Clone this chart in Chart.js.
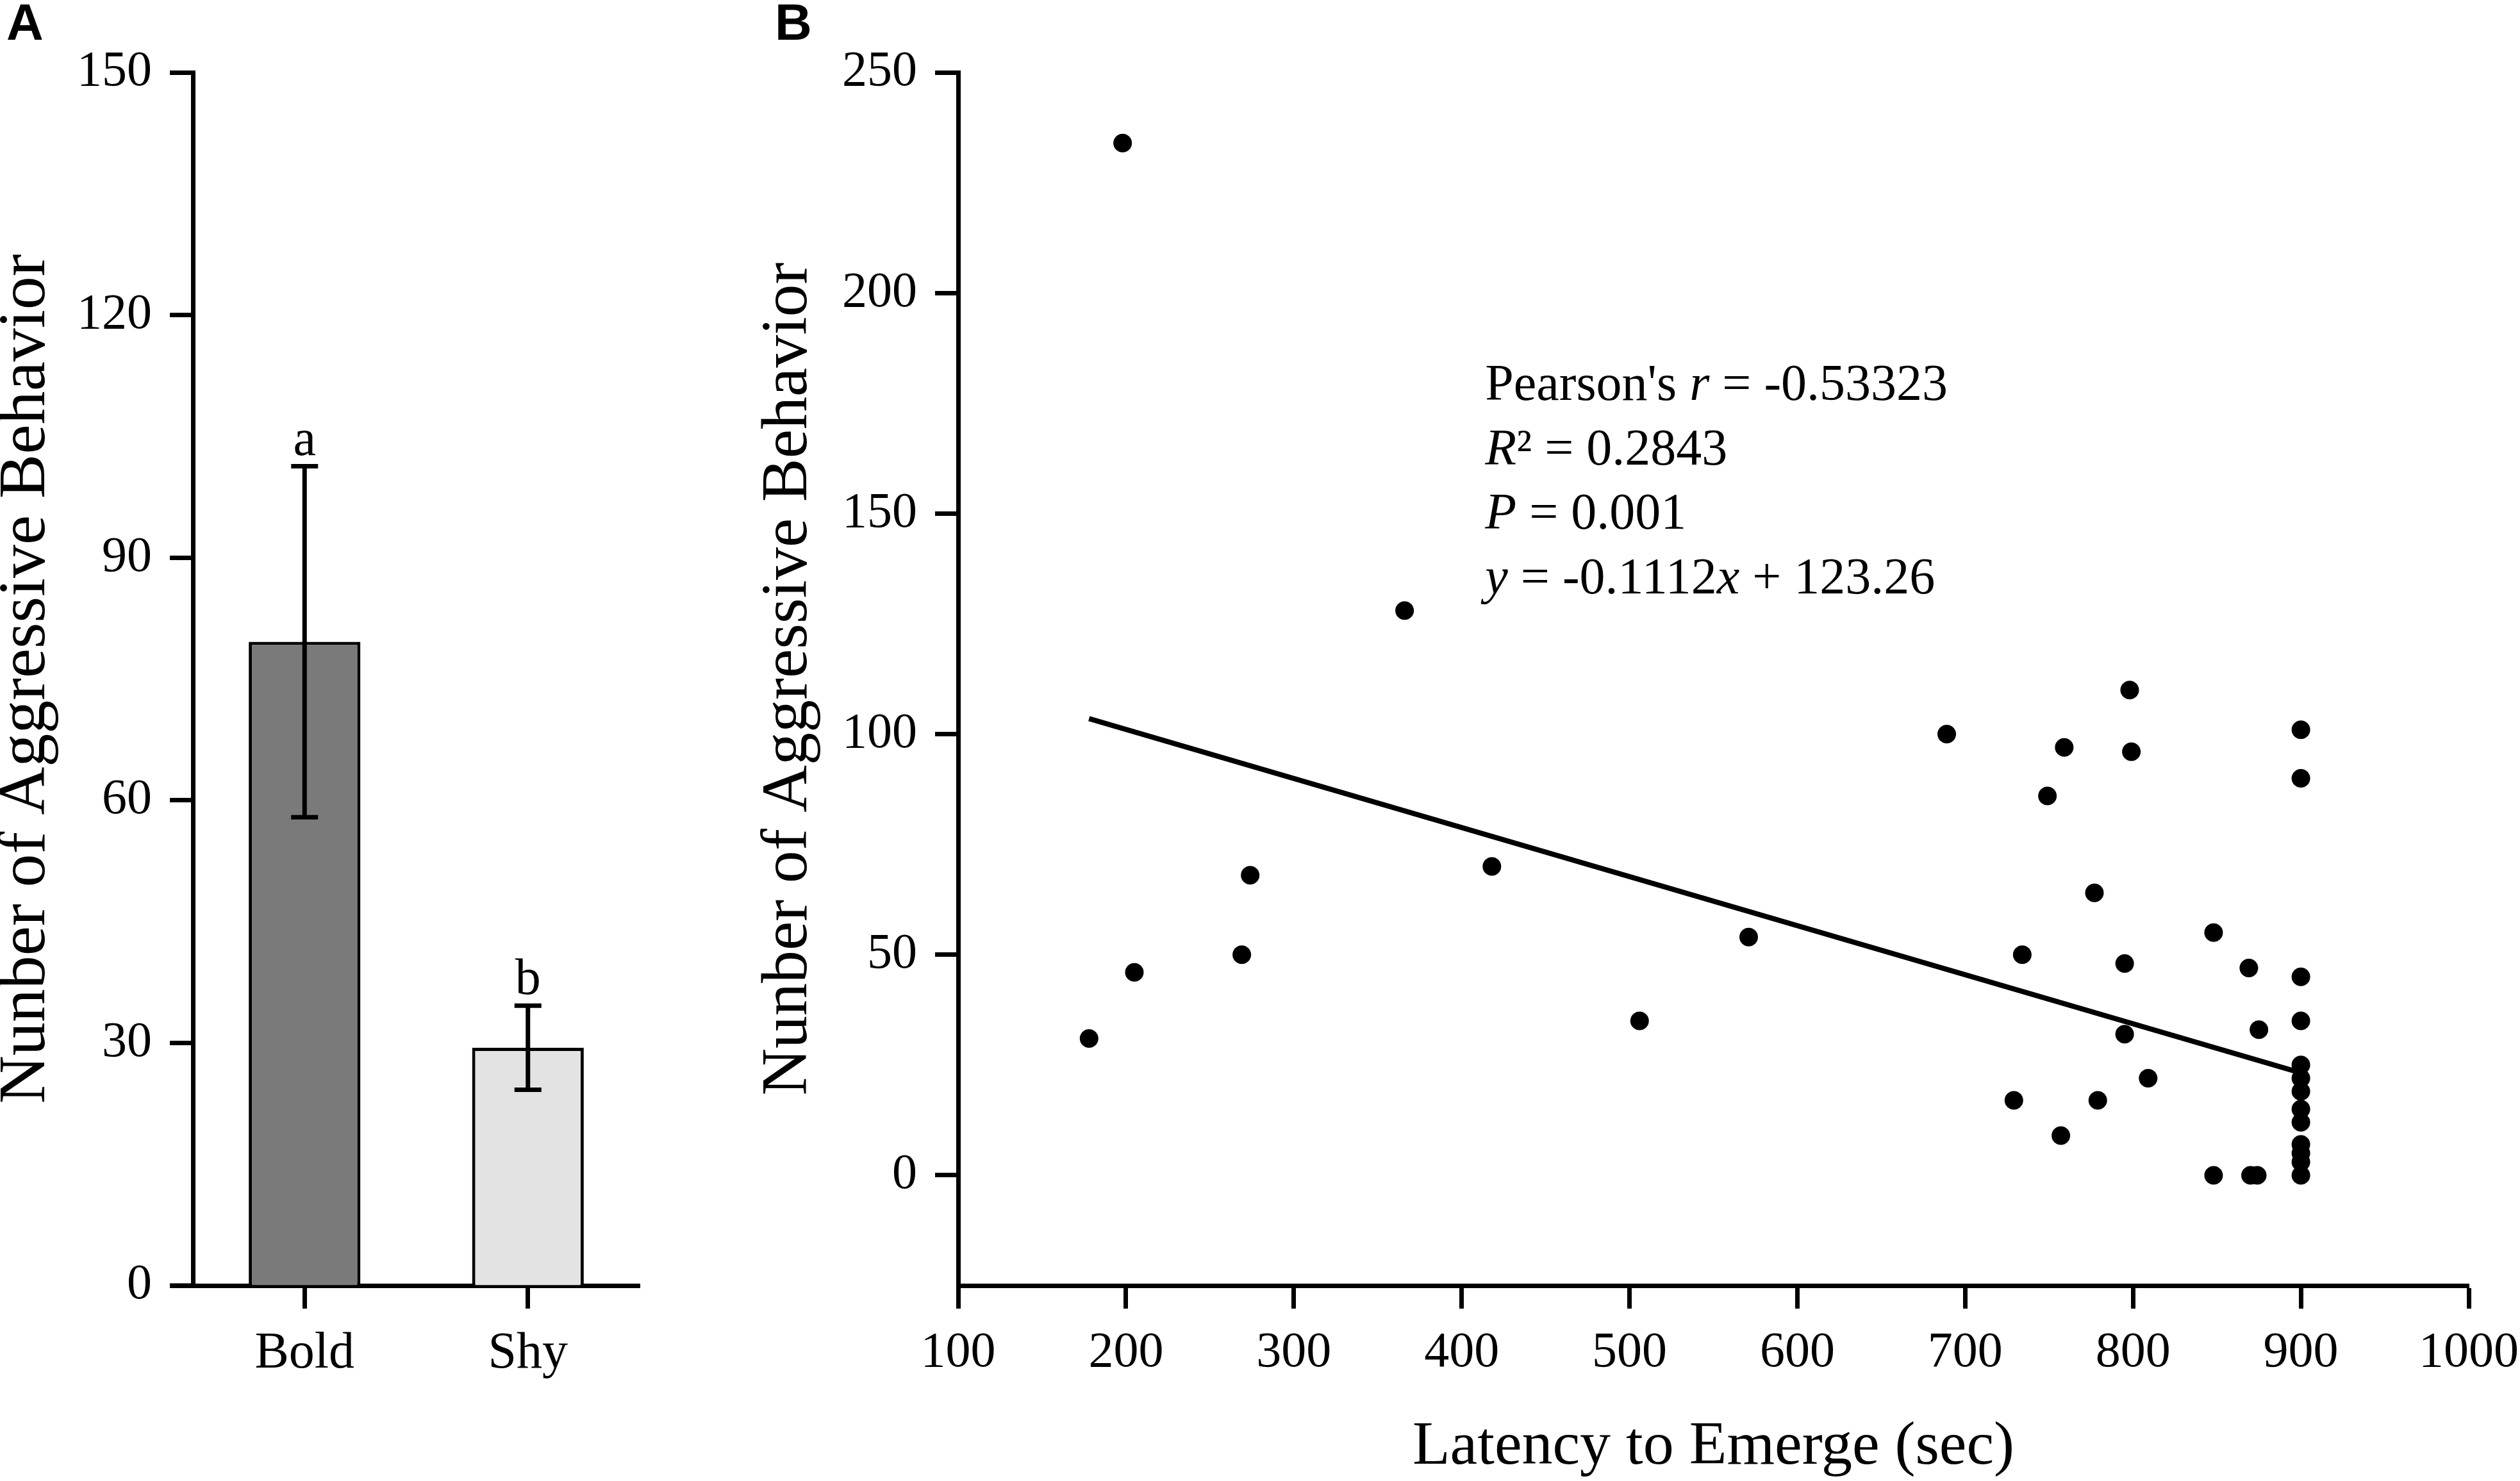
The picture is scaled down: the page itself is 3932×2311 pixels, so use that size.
<!DOCTYPE html>
<html>
<head>
<meta charset="utf-8">
<script src="https://cdn.jsdelivr.net/npm/chart.js@4.4.1/dist/chart.umd.min.js"></script>
<style>
  html, body { margin: 0; padding: 0; background: #fff; overflow: hidden; }
  #wrap { position: relative; width: 3932px; height: 2311px; background: #fff; }
  canvas { position: absolute; top: 0; }
  #cA { left: 0; width: 1150px; height: 2311px; }
  #cB { left: 1150px; width: 2782px; height: 2311px; }
</style>
</head>
<body>
<div id="wrap">
  <canvas id="cA" width="1150" height="2311"></canvas>
  <canvas id="cB" width="2782" height="2311"></canvas>
</div>
<script>
// ---------- Panel A data ----------
const groups = ['Bold', 'Shy'];
const groupMeans = [79.6, 29.4];
const groupErrors = [21.7, 5.2];
const groupLetters = ['a', 'b'];
const groupColors = ['#7a7a7a', '#e3e3e3'];
const yTicksA = [0, 30, 60, 90, 120, 150];
const yTitle = 'Nunber of Aggressive Behavior';

// ---------- Panel B data ----------
const latency = [178, 198, 205, 269, 274, 366, 418, 506, 571, 689, 729, 734, 749, 757, 759, 777, 779, 795, 795, 798, 799, 809, 848, 848, 869, 870, 874, 875,
                 900, 900, 900, 900, 900, 900, 900, 900, 900, 900, 900, 900, 900];
const aggression = [31, 234, 46, 50, 68, 128, 70, 35, 54, 100, 17, 50, 86, 9, 97, 64, 17, 48, 32, 110, 96, 22, 55, 0, 47, 0, 0, 33,
                    101, 90, 45, 35, 25, 22, 19, 15, 12, 7, 5, 3, 0];
const fitX = [178, 900];
const fitY = [103.5, 23.2];
const xTicksB = [100, 200, 300, 400, 500, 600, 700, 800, 900, 1000];
const yTicksB = [0, 50, 100, 150, 200, 250];
const xTitleB = 'Latency to Emerge (sec)';
const annotAnchor = [414, 175.7];
const annotLines = [
  [["Pearson's ", false], ['r', true], [' = -0.53323', false]],
  [['R', true], ['\u00B2', false], [' = 0.2843', false]],
  [['P', true], [' = 0.001', false]],
  [['y', true], [' = -0.1112', false], ['x', true], [' + 123.26', false]]
];

Chart.defaults.font.family = '"Liberation Serif", "Times New Roman", serif';
Chart.defaults.color = '#000';

const SERIF = '"Liberation Serif", "Times New Roman", serif';
const plainLabel = v => String(v);

function axisGrid(tl) {
  return { display: true, drawOnChartArea: false, offset: false, tickLength: tl, tickWidth: 7, tickColor: '#000' };
}
const axisBorder = { display: true, width: 7, color: '#000' };

// ---------- Panel A ----------
const errorBarPlugin = {
  id: 'errorBars',
  afterDatasetsDraw(chart) {
    const ctx = chart.ctx, xs = chart.scales.x, ys = chart.scales.y;
    ctx.save();
    ctx.strokeStyle = '#000';
    ctx.lineWidth = 7;
    ctx.lineCap = 'butt';
    for (let i = 0; i < groups.length; i++) {
      const x = xs.getPixelForValue(i);
      const yt = ys.getPixelForValue(groupMeans[i] + groupErrors[i]);
      const yb = ys.getPixelForValue(groupMeans[i] - groupErrors[i]);
      ctx.beginPath();
      ctx.moveTo(x, yt); ctx.lineTo(x, yb);
      ctx.moveTo(x - 21, yt); ctx.lineTo(x + 21, yt);
      ctx.moveTo(x - 21, yb); ctx.lineTo(x + 21, yb);
      ctx.stroke();
      ctx.fillStyle = '#000';
      ctx.font = '80px ' + SERIF;
      ctx.textAlign = 'center';
      ctx.textBaseline = 'alphabetic';
      ctx.fillText(groupLetters[i], x, yt - 18);
    }
    const ca = chart.chartArea;
    ctx.beginPath();
    ctx.moveTo(ca.left - 36, ca.bottom);
    ctx.lineTo(ca.left, ca.bottom);
    ctx.stroke();
    ctx.font = 'bold 80px "Liberation Sans", Arial, sans-serif';
    ctx.textAlign = 'left';
    ctx.fillText('A', 10, 62);
    ctx.restore();
  }
};

new Chart(document.getElementById('cA'), {
  type: 'bar',
  data: {
    labels: groups,
    datasets: [{
      data: groupMeans,
      backgroundColor: groupColors,
      borderColor: '#000',
      borderWidth: 5,
      borderSkipped: 'start',
      barPercentage: 0.5,
      categoryPercentage: 1.0
    }]
  },
  options: {
    responsive: false,
    animation: false,
    devicePixelRatio: 1,
    layout: { padding: { left: 0, right: 152, top: 113, bottom: 0 } },
    plugins: { legend: { display: false }, tooltip: { enabled: false } },
    scales: {
      x: {
        type: 'category',
        offset: true,
        grid: axisGrid(36),
        border: axisBorder,
        ticks: { font: { size: 80 }, color: '#000', padding: 23 },
        afterFit(s) { s.height = 305; s.paddingLeft = 0; s.paddingRight = 0; }
      },
      y: {
        min: 0, max: 150,
        afterBuildTicks(s) { s.ticks = yTicksA.map(v => ({ value: v })); },
        grid: axisGrid(36),
        border: axisBorder,
        ticks: { font: { size: 78 }, color: '#000', padding: 28, callback: plainLabel },
        title: { display: true, text: yTitle, color: '#000', font: { size: 104, lineHeight: 0.8 }, padding: { top: 0, bottom: 0 } },
        afterFit(s) { s.width = 301; s.paddingTop = 0; s.paddingBottom = 0; }
      }
    }
  },
  plugins: [errorBarPlugin]
});

// ---------- Panel B ----------
const annotPlugin = {
  id: 'annot',
  afterDraw(chart) {
    const ctx = chart.ctx, xs = chart.scales.x, ys = chart.scales.y;
    const x0 = xs.getPixelForValue(annotAnchor[0]);
    const y0 = ys.getPixelForValue(annotAnchor[1]);
    ctx.save();
    ctx.fillStyle = '#000';
    ctx.textAlign = 'left';
    ctx.textBaseline = 'alphabetic';
    annotLines.forEach((line, li) => {
      let x = x0;
      const y = y0 + li * 100.5;
      line.forEach(([txt, ital]) => {
        ctx.font = (ital ? 'italic ' : '') + '80px ' + SERIF;
        ctx.fillText(txt, x, y);
        x += ctx.measureText(txt).width;
      });
    });
    ctx.font = 'bold 80px "Liberation Sans", Arial, sans-serif';
    ctx.fillText('B', 59, 62);
    ctx.restore();
  }
};

new Chart(document.getElementById('cB'), {
  type: 'scatter',
  data: {
    datasets: [
      {
        type: 'line',
        data: fitX.map((x, i) => ({ x: x, y: fitY[i] })),
        borderColor: '#000',
        borderWidth: 8,
        pointRadius: 0,
        fill: false,
        tension: 0
      },
      {
        data: latency.map((x, i) => ({ x: x, y: aggression[i] })),
        backgroundColor: '#000',
        borderColor: '#000',
        borderWidth: 0,
        pointRadius: 14.5
      }
    ]
  },
  options: {
    responsive: false,
    animation: false,
    devicePixelRatio: 1,
    layout: { padding: { left: 0, right: 80, top: 113, bottom: 0 } },
    plugins: { legend: { display: false }, tooltip: { enabled: false } },
    scales: {
      x: {
        type: 'linear',
        min: 100, max: 1000,
        afterBuildTicks(s) { s.ticks = xTicksB.map(v => ({ value: v })); },
        grid: axisGrid(36),
        border: axisBorder,
        ticks: { font: { size: 78 }, color: '#000', padding: 23, callback: plainLabel },
        title: { display: true, text: xTitleB, color: '#000', font: { size: 96, lineHeight: 1 }, padding: { top: 0, bottom: 4 } },
        afterFit(s) { s.height = 305; s.paddingLeft = 0; s.paddingRight = 0; }
      },
      y: {
        type: 'linear',
        min: -25, max: 250,
        afterBuildTicks(s) { s.ticks = yTicksB.map(v => ({ value: v })); },
        grid: axisGrid(36),
        border: axisBorder,
        ticks: { font: { size: 78 }, color: '#000', padding: 28, callback: plainLabel },
        title: { display: true, text: yTitle, color: '#000', font: { size: 102, lineHeight: 1 }, padding: { top: 30, bottom: 0 } },
        afterFit(s) { s.width = 345; s.paddingTop = 0; s.paddingBottom = 0; }
      }
    }
  },
  plugins: [annotPlugin]
});
</script>
</body>
</html>
